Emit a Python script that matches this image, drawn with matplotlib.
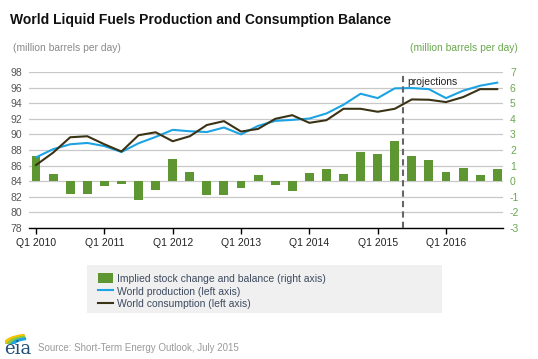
import numpy as np
import matplotlib
matplotlib.use("Agg")
import matplotlib.pyplot as plt
from matplotlib.patches import Patch, Wedge
from matplotlib.lines import Line2D

plt.rcParams['font.family'] = ['Liberation Sans', 'DejaVu Sans']
plt.rcParams['axes.unicode_minus'] = False

# quarterly data, Q1 2010 .. Q4 2016
quarters = [f"Q{q} {y}" for y in range(2010, 2017) for q in range(1, 5)]
tick_labels = ["Q1 2010", "Q1 2011", "Q1 2012", "Q1 2013", "Q1 2014", "Q1 2015", "Q1 2016"]

production = [87.06, 88.1, 88.73, 88.9, 88.5, 87.74, 88.86, 89.67,
              90.58, 90.4, 90.3, 90.88, 90.0, 91.09, 91.73, 91.86,
              92.03, 92.68, 93.8, 95.21, 94.65, 95.9, 95.94, 95.8,
              94.65, 95.6, 96.24, 96.63]
consumption = [86.07, 87.66, 89.63, 89.76, 88.73, 87.8, 89.89, 90.27,
               89.12, 89.76, 91.2, 91.7, 90.36, 90.7, 91.99, 92.46,
               91.48, 91.82, 93.28, 93.28, 92.9, 93.28, 94.48, 94.44,
               94.14, 94.78, 95.8, 95.8]
stock_change = [1.59, 0.47, -0.84, -0.84, -0.34, -0.17, -1.2, -0.56,
                1.39, 0.58, -0.86, -0.86, -0.45, 0.41, -0.26, -0.62,
                0.54, 0.75, 0.47, 1.85, 1.74, 2.55, 1.63, 1.37,
                0.58, 0.86, 0.41, 0.75]

blue = '#1ca3e3'
brown = '#3b3316'
green = '#5e9732'
green_txt = '#6aa84f'
grey_txt = '#555555'

x = np.arange(len(quarters))

fig = plt.figure(figsize=(5.38, 3.59), dpi=100)
ax = fig.add_axes([0.054, 0.365, 0.881, 0.4345])
ax2 = ax.twinx()

ax2.bar(x, stock_change, width=0.52, color=green, zorder=2)
ax.plot(x, production, color=blue, lw=1.5, zorder=3)
ax.plot(x, consumption, color=brown, lw=1.5, zorder=4)

# put lines above bars
ax.set_zorder(ax2.get_zorder() + 1)
ax.patch.set_visible(False)

ax.set_xlim(-0.41, 27.34)
ax.set_ylim(78, 98)
ax.set_yticks(np.arange(78, 99, 2))
ax2.set_ylim(-3, 7)
ax2.set_yticks(np.arange(-3, 8, 1))

ax2.yaxis.grid(True, color='#c8c8c8', lw=0.9, zorder=0)
ax2.set_axisbelow(True)

for a in (ax, ax2):
    for s in ('top', 'left', 'right', 'bottom'):
        a.spines[s].set_visible(False)
ax.spines['bottom'].set_visible(True)
ax.spines['bottom'].set_color('black')
ax.spines['bottom'].set_linewidth(1.0)

ax.set_xticks(x[::4])
ax.set_xticklabels(tick_labels, fontsize=7.5, color='#222222')
ax.tick_params(axis='x', length=4, width=1, color='black', pad=3)
ax.tick_params(axis='y', length=0, labelsize=7.5, labelcolor=grey_txt, pad=5)
ax2.tick_params(axis='y', length=0, labelsize=7.5, labelcolor=green_txt, pad=5)

# projections divider
ax.axvline(5 * 4 + 1.5, color='#666666', lw=1.5, ls=(0, (3, 2)), zorder=5)
ax.text(21.75, 96.7, 'projections', fontsize=7.5, color='#222222', va='center')

fig.text(10 / 538, 1 - 20 / 359, 'World Liquid Fuels Production and Consumption Balance',
         fontsize=10, fontweight='bold', va='center', color='#111111')
fig.text(13 / 538, 1 - 48 / 359, '(million barrels per day)', fontsize=7.4,
         color='#8a8a8a', va='center')
fig.text(518 / 538, 1 - 48 / 359, '(million barrels per day)', fontsize=7.4,
         color=green_txt, va='center', ha='right')

handles = [Patch(facecolor=green, edgecolor='none'),
           Line2D([], [], color=blue, lw=1.5),
           Line2D([], [], color=brown, lw=1.5)]
labels = ['Implied stock change and balance (right axis)',
          'World production (left axis)',
          'World consumption (left axis)']
leg_ax = fig.add_axes([87 / 538, 1 - 313 / 359, 355 / 538, 48 / 359])
leg_ax.set_facecolor('#f0f0f0')
leg_ax.set_xticks([])
leg_ax.set_yticks([])
for s in leg_ax.spines.values():
    s.set_visible(False)
leg_ax.legend(handles, labels, loc='upper left', frameon=False, fontsize=7.5,
              labelcolor='#3d4b60', handlelength=1.45, handleheight=1.1,
              handletextpad=0.4, labelspacing=0.22, borderpad=0,
              bbox_to_anchor=(6 / 355, 45 / 48))

fig.text(38 / 538, 1 - 348 / 359, 'Source: Short-Term Energy Outlook, July 2015',
         fontsize=7, color='#9a9a9a', va='center')
fig.text(4 / 538, 1 - 349 / 359, 'eia', fontsize=13, family='DejaVu Serif',
         color='#1f4e79', va='center')
# small swoosh above the logo
logo = fig.add_axes([5 / 538, 1 - 344 / 359, 26 / 538, 12 / 359])
logo.set_xlim(0, 1)
logo.set_ylim(0, 1)
logo.axis('off')
for r, c in zip([1.0, 0.85, 0.7], ['#f5c400', '#8dc63f', '#1ca3e3']):
    logo.add_patch(Wedge((0.9, -0.2), r, 100, 170, width=0.12, color=c))

fig.savefig('out.png', dpi=100)
